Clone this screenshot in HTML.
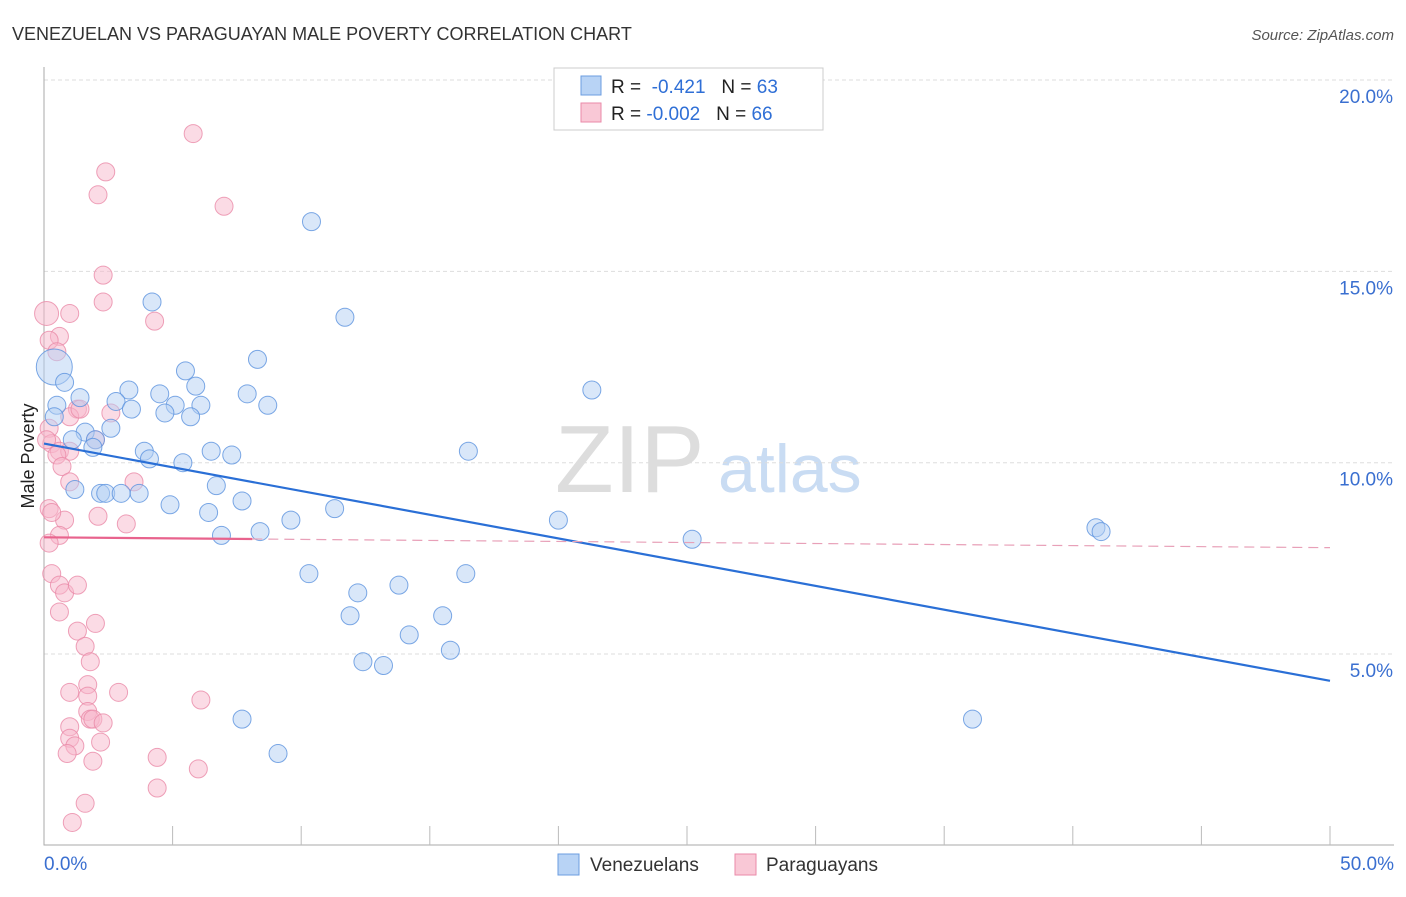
<!DOCTYPE html>
<html><head><meta charset="utf-8"><style>
body{margin:0;background:#fff;font-family:"Liberation Sans",sans-serif}
svg text{font-family:"Liberation Sans",sans-serif}
</style></head><body>
<svg id="c" width="1406" height="892">
<text x="12" y="40" font-size="18" fill="#333">VENEZUELAN VS PARAGUAYAN MALE POVERTY CORRELATION CHART</text>
<text x="1394" y="40" font-size="15" fill="#555" font-style="italic" text-anchor="end">Source: ZipAtlas.com</text>
<text x="0" y="0" transform="translate(34,456) rotate(-90)" font-size="18" fill="#222" text-anchor="middle">Male Poverty</text>
<text x="555" y="492" font-size="96" fill="#ddd" font-family="Liberation Serif">ZIP</text>
<text x="718" y="492" font-size="68" fill="#c9dcf3">atlas</text>
<g id="grid"></g><g id="pts"></g><g id="lines"></g>
<g>
<rect x="554" y="68" width="269" height="62" fill="#fff" stroke="#ccc"/>
<rect x="581" y="76" width="20" height="19" fill="#b8d3f5" stroke="#6b9de0"/>
<rect x="581" y="103" width="20" height="19" fill="#f9c8d6" stroke="#ea8aa8"/>
<text x="611" y="93" font-size="19" fill="#222">R = <tspan fill="#2f6fd6">&#160;-0.421</tspan><tspan fill="#222">&#160;&#160;&#160;N = </tspan><tspan fill="#2f6fd6">63</tspan></text>
<text x="611" y="120" font-size="19" fill="#222">R = <tspan fill="#2f6fd6">-0.002</tspan><tspan fill="#222">&#160;&#160;&#160;N = </tspan><tspan fill="#2f6fd6">66</tspan></text>
</g>
<g>
<rect x="558" y="854" width="21" height="21" fill="#b8d3f5" stroke="#6b9de0"/>
<text x="590" y="871" font-size="19" fill="#333">Venezuelans</text>
<rect x="735" y="854" width="21" height="21" fill="#f9c8d6" stroke="#ea8aa8"/>
<text x="766" y="871" font-size="19" fill="#333">Paraguayans</text>
</g>
</svg>
<script>
const yTicks=[5,10,15,20];
const xTickLabels=["0.0%","50.0%"];
const venX=[10.4,4.2,11.7,8.3,5.5,0.4,0.8,5.9,3.3,4.5,7.9,21.3,1.4,0.5,2.8,3.4,5.1,6.1,8.7,4.7,5.7,0.4,2.6,1.6,1.1,2.0,1.9,3.9,4.1,6.5,7.3,16.5,5.4,6.7,1.2,2.2,2.4,3.0,3.7,7.7,4.9,11.3,6.4,9.6,20.0,6.9,8.4,25.2,40.9,41.1,10.3,12.2,13.8,16.4,11.9,15.5,14.2,12.4,13.2,15.8,7.7,36.1,9.1];
const venY=[16.3,14.2,13.8,12.7,12.4,12.5,12.1,12.0,11.9,11.8,11.8,11.9,11.7,11.5,11.6,11.4,11.5,11.5,11.5,11.3,11.2,11.2,10.9,10.8,10.6,10.6,10.4,10.3,10.1,10.3,10.2,10.3,10.0,9.4,9.3,9.2,9.2,9.2,9.2,9.0,8.9,8.8,8.7,8.5,8.5,8.1,8.2,8.0,8.3,8.2,7.1,6.6,6.8,7.1,6.0,6.0,5.5,4.8,4.7,5.1,3.3,3.3,2.4];
const parX=[5.8,2.4,2.1,7.0,2.3,2.3,4.3,0.1,1.0,0.6,0.2,0.5,1.3,1.0,1.4,2.6,0.2,0.3,0.6,1.0,0.5,0.7,1.0,2.0,0.1,3.5,2.1,3.2,0.8,0.2,0.3,0.6,0.2,0.3,0.6,0.8,1.3,0.6,2.0,1.3,1.6,1.8,1.0,1.7,2.9,6.1,1.7,1.7,1.8,1.9,2.3,1.0,1.0,1.2,0.9,2.2,1.9,4.4,6.0,4.4,1.6,1.1];
const parY=[18.6,17.6,17.0,16.7,14.9,14.2,13.7,13.9,13.9,13.3,13.2,12.9,11.4,11.2,11.4,11.3,10.9,10.5,10.3,10.3,10.2,9.9,9.5,10.6,10.6,9.5,8.6,8.4,8.5,8.8,8.7,8.1,7.9,7.1,6.8,6.6,6.8,6.1,5.8,5.6,5.2,4.8,4.0,4.2,4.0,3.8,3.9,3.5,3.3,3.3,3.2,3.1,2.8,2.6,2.4,2.7,2.2,2.3,2.0,1.5,1.1,0.6];
const venTrend=[10.5,4.3]; // y at x=0 and x=50
const parTrend=[8.05,7.78];
const parSolidEnd=8.1;
const X=v=>44+v*25.72, Y=v=>80+(20-v)*38.27;
const NS="http://www.w3.org/2000/svg";
function mk(t,a,p){const e=document.createElementNS(NS,t);for(const k in a)e.setAttribute(k,a[k]);p.appendChild(e);return e;}
const svg=document.getElementById('c'),g=document.getElementById('grid'),pg=document.getElementById('pts'),lg=document.getElementById('lines');
yTicks.forEach(t=>{
 const l=mk('line',{x1:44,x2:1394,y1:Y(t),y2:Y(t),stroke:'#ddd','stroke-dasharray':'4,3'},g);
 
 
 const tx=mk('text',{x:1393,y:Y(t)+23,'font-size':19,fill:'#3a6fd0','text-anchor':'end'},g);
 tx.textContent=t.toFixed(1)+'%';
 
 
});
const ax=mk('path',{d:'M44,67V845H1394',stroke:'#aaa',fill:'none'},g);


for(let i=1;i<=10;i++){const tk=mk('line',{x1:X(i*5),x2:X(i*5),y1:826,y2:845,stroke:'#bbb'},g);
 
 }
[[0,'start',44],[50,'end',1394]].forEach((d,i)=>{const tx=mk('text',{x:d[2],y:870,'font-size':19,fill:'#3a6fd0','text-anchor':d[1]},g);
 tx.textContent=xTickLabels[i];
 
 });
function pts(xs,ys,fill,stroke,name){xs.forEach((x,i)=>{
 let r=9; if(name==='venezuelan-point'&&i===5)r=18; if(name==='paraguayan-point'&&i===7)r=12;
 const c=mk('circle',{cx:X(x),cy:Y(ys[i]),r:r,fill:fill,'fill-opacity':0.5,stroke:stroke,'stroke-opacity':0.8},pg);
 
 });}
pts(parX,parY,'#f7b8cb','#ea8aa8','paraguayan-point');
pts(venX,venY,'#b3cff3','#5b92de','venezuelan-point');
const vl=mk('line',{x1:X(0),y1:Y(venTrend[0]),x2:X(50),y2:Y(venTrend[1]),stroke:'#2a6fd6','stroke-width':2.2},lg);


const pm=v=>parTrend[0]+(parTrend[1]-parTrend[0])*v/50;
const pl=mk('line',{x1:X(0),y1:Y(pm(0)),x2:X(parSolidEnd),y2:Y(pm(parSolidEnd)),stroke:'#e8638d','stroke-width':2.2},lg);


const pd=mk('line',{x1:X(parSolidEnd),y1:Y(pm(parSolidEnd)),x2:X(50),y2:Y(pm(50)),stroke:'#e8a0b8','stroke-width':1.2,'stroke-dasharray':'10,6'},lg);


</script>
</body></html>
